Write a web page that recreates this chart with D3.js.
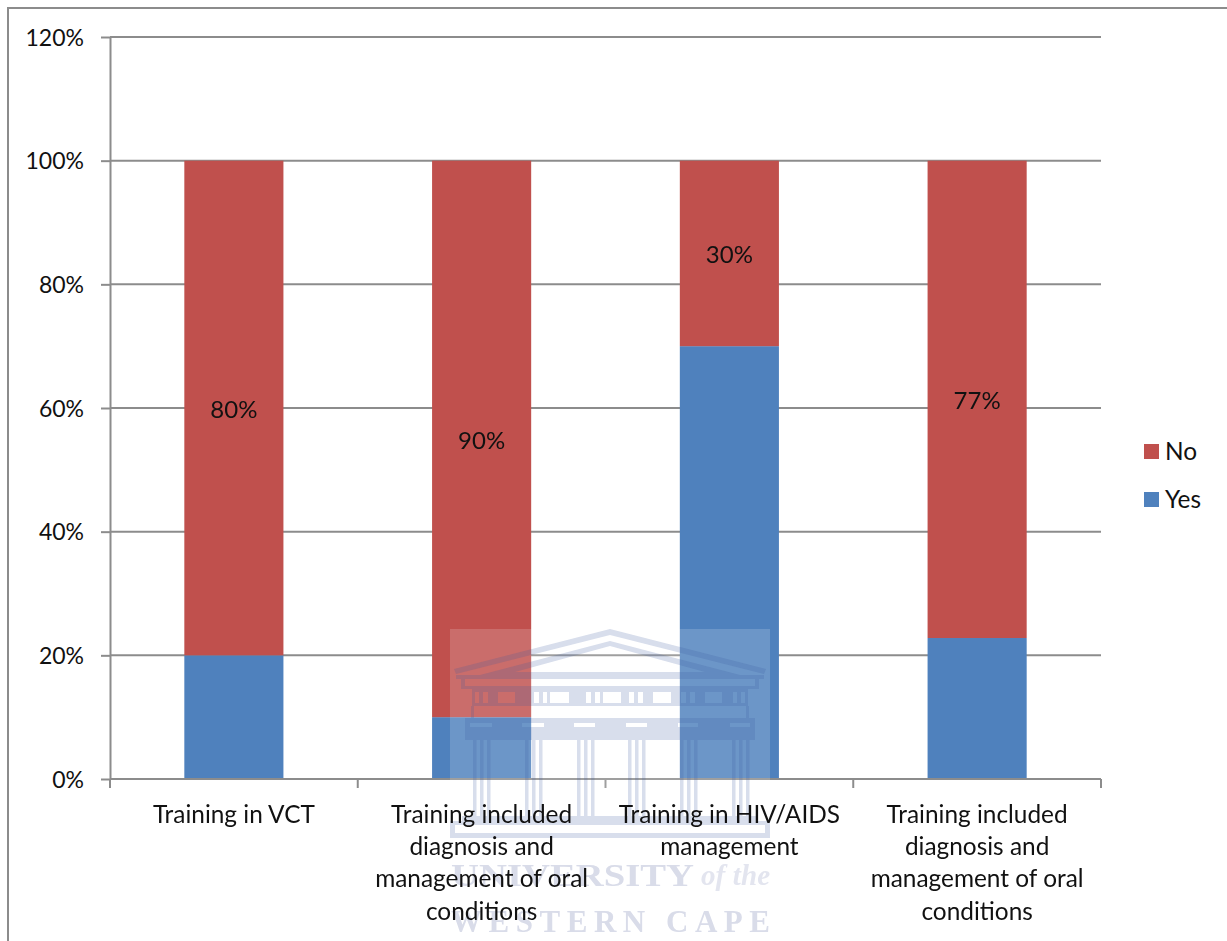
<!DOCTYPE html>
<html>
<head>
<meta charset="utf-8">
<script src="https://cdn.jsdelivr.net/npm/d3@7"></script>
<style>
html, body { margin: 0; padding: 0; background: #fff; overflow: hidden; }
svg { display: block; }
text { font-family: Lato, "Open Sans", sans-serif; fill: #111; }
</style>
</head>
<body>
<script>
var w = 1227;
var h = 941;

var categories = [
	"Training in VCT",
	"Training included diagnosis and management of oral conditions",
	"Training in HIV/AIDS management",
	"Training included diagnosis and management of oral conditions "
];
var categoryLines = [
	["Training in VCT"],
	["Training included", "diagnosis and", "management of oral", "conditions"],
	["Training in HIV/AIDS", "management"],
	["Training included", "diagnosis and", "management of oral", "conditions"]
];
var yesValues = [20, 10, 70, 22.8];
var noValues = [80, 90, 30, 77.2];
var yTicks = [0, 20, 40, 60, 80, 100, 120];
var seriesNames = ["Yes", "No"];
var legendOrder = ["No", "Yes"];
var colors = { Yes: "#4f81bd", No: "#c0504d" };

var axisColor = "#8c8c8c";

var left = 110, right = 1101, top_ = 37, bottom = 779;

var x = d3.scaleBand()
	.domain(d3.range(categories.length))
	.range([left, right])
	.paddingInner(0.6)
	.paddingOuter(0.3);

var y = d3.scaleLinear()
	.domain([0, 120])
	.range([bottom, top_]);

var rows = categories.map(function(c, i) {
	return { Yes: yesValues[i], No: noValues[i] };
});
var stacked = d3.stack().keys(seriesNames)(rows);

var svg = d3.select("body")
	.append("svg")
	.attr("width", w)
	.attr("height", h);

// chart frame, cropped at the right and the bottom of the page
svg.append("path")
	.attr("d", "M8," + h + "V8H" + w)
	.attr("fill", "none")
	.attr("stroke", axisColor)
	.attr("stroke-width", 2);

// gridlines
svg.append("g")
	.selectAll("line")
	.data(yTicks.slice(1))
	.enter()
	.append("line")
	.attr("x1", left)
	.attr("x2", right)
	.attr("y1", function(d) { return y(d); })
	.attr("y2", function(d) { return y(d); })
	.attr("stroke", axisColor)
	.attr("stroke-width", 2);

// bars
svg.append("g")
	.selectAll("g")
	.data(stacked)
	.enter()
	.append("g")
	.attr("fill", function(d) { return colors[d.key]; })
	.selectAll("rect")
	.data(function(d) { return d; })
	.enter()
	.append("rect")
	.attr("x", function(d, i) { return x(i); })
	.attr("y", function(d) { return y(d[1]); })
	.attr("width", x.bandwidth())
	.attr("height", function(d) { return y(d[0]) - y(d[1]); });

// y axis
var yAxis = d3.axisLeft(y)
	.tickValues(yTicks)
	.tickSize(9)
	.tickPadding(17)
	.tickSizeOuter(0)
	.tickFormat(function(d) { return d + "%"; });

var yG = svg.append("g")
	.attr("transform", "translate(" + left + ",0)")
	.call(yAxis);
yG.selectAll("path, line").attr("stroke", axisColor).attr("stroke-width", 2);
yG.selectAll("text").attr("font-size", 23).attr("dy", "0.36em").style("font-family", "Lato, sans-serif");

// x axis, ticks sit on the boundaries between the categories
var xAxis = d3.axisBottom(x).tickSize(0).tickFormat("");
var xG = svg.append("g")
	.attr("transform", "translate(0," + bottom + ")")
	.call(xAxis);
xG.select("path")
	.attr("d", "M" + left + ",0H" + right)
	.attr("stroke", axisColor)
	.attr("stroke-width", 2);

svg.append("g")
	.selectAll("line")
	.data(d3.range(categories.length + 1))
	.enter()
	.append("line")
	.attr("x1", function(d) { return left + d * x.step(); })
	.attr("x2", function(d) { return left + d * x.step(); })
	.attr("y1", bottom)
	.attr("y2", bottom + 9)
	.attr("stroke", axisColor)
	.attr("stroke-width", 2);

// university watermark over the plot
var defs = svg.append("defs");
defs.append("filter").attr("id", "soft")
	.append("feGaussianBlur").attr("stdDeviation", 0.6);

var wm = svg.append("g");

wm.append("rect")
	.attr("x", 450).attr("y", 629).attr("width", 320).attr("height", 209)
	.attr("fill", "#fff").attr("opacity", 0.17);

var wmStone = wm.append("g")
	.attr("fill", "#3c5a9e")
	.attr("stroke", "none")
	.attr("opacity", 0.2)
	.attr("filter", "url(#soft)");

// pediment, two roof bands with a light gap between them
wmStone.append("path")
	.attr("d", "M610,629L766,669L764,674L610,635L456,674L454,669Z");
wmStone.append("path")
	.attr("d", "M610,641L740,675H480Z M610,646L515,672H705Z")
	.attr("fill-rule", "evenodd");
wmStone.append("rect").attr("x", 456).attr("y", 675).attr("width", 308).attr("height", 4);
wmStone.append("rect").attr("x", 461).attr("y", 679).attr("width", 4).attr("height", 9);
wmStone.append("rect").attr("x", 755).attr("y", 679).attr("width", 4).attr("height", 9);
wmStone.append("rect").attr("x", 461).attr("y", 686).attr("width", 298).attr("height", 3);

// frieze with its windows
wmStone.append("path")
	.attr("fill-rule", "evenodd")
	.attr("d", "M472,689H748V706H472Z"
		+ " M475,692H479V703H475Z M483,692H488V703H483Z M498,692H515V703H498Z"
		+ " M534,692H539V703H534Z M543,692H547V703H543Z M550,692H569V703H550Z"
		+ " M586,692H591V703H586Z M595,692H600V703H595Z M603,692H621V703H603Z"
		+ " M629,692H634V703H629Z M638,692H643V703H638Z M653,692H671V703H653Z"
		+ " M681,692H686V703H681Z M690,692H695V703H690Z M705,692H722V703H705Z"
		+ " M733,692H737V703H733Z M741,692H745V703H741Z");
wmStone.append("rect").attr("x", 471).attr("y", 706).attr("width", 3).attr("height", 12);
wmStone.append("rect").attr("x", 746).attr("y", 706).attr("width", 3).attr("height", 12);

// capitals with the light slots on top of the columns
wmStone.append("path")
	.attr("fill-rule", "evenodd")
	.attr("d", "M465,718H755V740H465Z"
		+ " M470,723H492V727H470Z M522,723H544V727H522Z M574,723H595V727H574Z"
		+ " M626,723H647V727H626Z M678,723H698V727H678Z M730,723H750V727H730Z");

// columns, each one three thin stripes
var columnX = [473, 525, 577, 628, 680, 732];
var stripeX = [0, 7, 14];
wmStone.append("g")
	.selectAll("g")
	.data(columnX)
	.enter()
	.append("g")
	.attr("transform", function(d) { return "translate(" + d + ",740)"; })
	.selectAll("rect")
	.data(stripeX)
	.enter()
	.append("rect")
	.attr("x", function(d) { return d; })
	.attr("width", 3.5)
	.attr("height", 76);

// steps
wmStone.append("path")
	.attr("fill-rule", "evenodd")
	.attr("d", "M462,816H758V821H462Z M450,821H770V838H450Z M455,825H765V833H455Z");

var wmFont = "'Liberation Serif', 'DejaVu Serif', serif";
var wmText = wm.append("g").attr("filter", "url(#soft)");
wmText.append("text")
	.text("UNIVERSITY")
	.attr("x", 451).attr("y", 886)
	.attr("textLength", 243)
	.attr("lengthAdjust", "spacingAndGlyphs")
	.style("font-family", wmFont)
	.style("font-weight", "bold")
	.style("font-size", "31px")
	.style("fill", "#d9dce9");
wmText.append("text")
	.text("of the")
	.attr("x", 701).attr("y", 885)
	.attr("textLength", 69)
	.style("font-family", wmFont)
	.style("font-style", "italic")
	.style("font-weight", "bold")
	.style("font-size", "29px")
	.style("fill", "#e3e5ef");
wmText.append("text")
	.text("WESTERN CAPE")
	.attr("x", 451).attr("y", 932)
	.attr("textLength", 319)
	.style("font-family", wmFont)
	.style("font-weight", "bold")
	.style("font-size", "31px")
	.style("fill", "#d9dce9");

// category labels
var labels = svg.append("g")
	.selectAll("text")
	.data(categoryLines)
	.enter()
	.append("text")
	.attr("text-anchor", "middle")
	.attr("font-size", 24.4);

labels.selectAll("tspan")
	.data(function(d, i) {
		return d.map(function(t) { return { t: t, i: i }; });
	})
	.enter()
	.append("tspan")
	.attr("x", function(d) { return x(d.i) + x.bandwidth() / 2; })
	.attr("y", function(d, j) { return bottom + 44 + j * 32.2; })
	.text(function(d) { return d.t; });

// value labels on the No series
svg.append("g")
	.selectAll("text")
	.data(stacked[1])
	.enter()
	.append("text")
	.attr("text-anchor", "middle")
	.attr("font-size", 24)
	.attr("x", function(d, i) { return x(i) + x.bandwidth() / 2; })
	.attr("y", function(d) { return y((d[0] + d[1]) / 2) + 10; })
	.text(function(d, i) { return Math.round(noValues[i]) + "%"; });

// legend
var legend = svg.append("g")
	.selectAll("g")
	.data(legendOrder)
	.enter()
	.append("g")
	.attr("transform", function(d, i) { return "translate(1144," + (444 + i * 48) + ")"; });

legend.append("rect")
	.attr("width", 15)
	.attr("height", 15)
	.attr("fill", function(d) { return colors[d]; });

legend.append("text")
	.attr("x", 21)
	.attr("y", 16)
	.attr("font-size", 24.4)
	.text(function(d) { return d; });
</script>
</body>
</html>
